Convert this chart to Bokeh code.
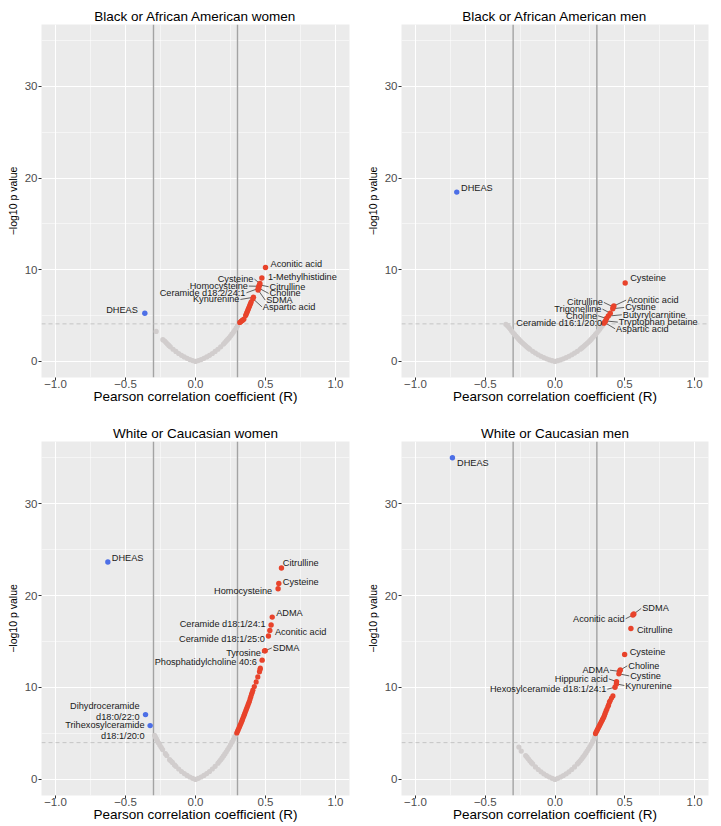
from bokeh.plotting import figure
from bokeh.layouts import column, row
from bokeh.models import Range1d, FixedTicker, Span
from bokeh.core.properties import value
from bokeh.embed import file_html
from bokeh.resources import INLINE

FONT = "Liberation Sans"
RED = "#E8432B"
BLUE = "#4D6FE6"
GRAY = "#D1CDCD"

titles = ["Black or African American women", "Black or African American men",
          "White or Caucasian women", "White or Caucasian men"]
r_threshold = 0.3
p_threshold = [4.1, 4.1, 4.0, 4.0]
x_ticks = [-1.0, -0.5, 0.0, 0.5, 1.0]
x_tick_labels = ["\u22121.0", "\u22120.5", "0.0", "0.5", "1.0"]
y_ticks = [0, 10, 20, 30]

# ---------------- Panel 1: Black or African American women ----------------
gray_r_1 = [0.00, 0.02, 0.04, 0.06, 0.08, 0.10, 0.12, 0.14, 0.16, 0.18, 0.20, 0.21, 0.22, 0.23, 0.24,
            0.25, 0.26, 0.27, 0.28, 0.29, 0.30,
            -0.02, -0.04, -0.06, -0.08, -0.10, -0.12, -0.14, -0.16, -0.18, -0.19, -0.20, -0.21, -0.22,
            -0.233, -0.281]
gray_y_1 = [0.00, 0.10, 0.21, 0.34, 0.49, 0.67, 0.87, 1.09, 1.33, 1.60, 1.90, 2.06, 2.24, 2.40, 2.57,
            2.77, 2.98, 3.18, 3.40, 3.65, 3.90,
            0.10, 0.21, 0.34, 0.49, 0.67, 0.87, 1.09, 1.33, 1.60, 1.75, 1.90, 2.06, 2.22,
            2.37, 3.27]
red_r_1 = [0.316, 0.322, 0.328, 0.334, 0.340, 0.346, 0.358, 0.362, 0.366, 0.370, 0.374, 0.378,
           0.382, 0.386, 0.390, 0.394, 0.398]
red_y_1 = [4.25, 4.32, 4.40, 4.48, 4.55, 4.62, 5.00, 5.15, 5.30, 5.45, 5.60, 5.75,
           5.90, 6.05, 6.20, 6.35, 6.50]
lab_name_1 = ["Aconitic acid", "1-Methylhistidine", "Cysteine", "Homocysteine", "Ceramide d18:2/24:1",
              "Kynurenine", "Citrulline", "Choline", "SDMA", "Aspartic acid", "DHEAS"]
lab_r_1 = [0.500, 0.474, 0.460, 0.452, 0.448, 0.414, 0.458, 0.452, 0.447, 0.410, -0.362]
lab_y_1 = [10.25, 9.10, 8.50, 8.20, 7.95, 7.00, 8.35, 8.00, 7.80, 6.85, 5.25]
lab_dir_1 = ["up", "up", "up", "up", "up", "up", "up", "up", "up", "up", "down"]
# label layout (repelled text positions)
txt_x_1 = [0.536, 0.517, 0.414, 0.374, 0.357, 0.314, 0.529, 0.529, 0.505, 0.481, -0.412]
txt_y_1 = [10.65, 9.24, 8.98, 8.22, 7.49, 6.76, 8.15, 7.42, 6.69, 5.96, 5.60]
txt_al_1 = ["left", "left", "right", "right", "right", "right", "left", "left", "left", "left", "right"]
txt_seg_1 = [False, False, True, True, True, True, True, True, True, True, False]

# ---------------- Panel 2: Black or African American men ----------------
gray_r_2 = [0.00, 0.02, 0.04, 0.06, 0.08, 0.10, 0.12, 0.14, 0.16, 0.18, 0.19, 0.20, 0.21, 0.22, 0.23,
            0.24, 0.25, 0.26, 0.27, 0.28, 0.29, 0.30, 0.31, 0.32, 0.33, 0.34,
            -0.02, -0.04, -0.06, -0.08, -0.10, -0.12, -0.14, -0.16, -0.18, -0.19, -0.20, -0.21, -0.22,
            -0.23, -0.24, -0.25, -0.26, -0.27, -0.28, -0.29, -0.30, -0.31, -0.32, -0.33, -0.34, -0.352]
gray_y_2 = [0.00, 0.08, 0.18, 0.29, 0.42, 0.57, 0.73, 0.91, 1.11, 1.33, 1.45, 1.57, 1.70, 1.84, 1.98,
            2.12, 2.27, 2.43, 2.60, 2.77, 2.95, 3.13, 3.32, 3.52, 3.72, 3.93,
            0.08, 0.18, 0.29, 0.42, 0.57, 0.73, 0.91, 1.11, 1.33, 1.45, 1.57, 1.70, 1.84,
            1.98, 2.12, 2.27, 2.43, 2.60, 2.77, 2.95, 3.13, 3.32, 3.52, 3.72, 3.90, 4.05]
red_r_2 = []
red_y_2 = []
lab_name_2 = ["DHEAS", "Cysteine", "Aconitic acid", "Citrulline", "Cystine", "Trigonelline",
              "Butyrylcarnitine", "Choline", "Tryptophan betaine", "Ceramide d16:1/20:0", "Aspartic acid"]
lab_r_2 = [-0.704, 0.503, 0.422, 0.417, 0.414, 0.396, 0.382, 0.369, 0.362, 0.350, 0.355]
lab_y_2 = [18.47, 8.55, 6.05, 5.95, 5.75, 5.27, 4.95, 4.68, 4.42, 4.18, 4.25]
lab_dir_2 = ["down", "up", "up", "up", "up", "up", "up", "up", "up", "up", "up"]
txt_x_2 = [-0.673, 0.539, 0.517, 0.343, 0.503, 0.333, 0.486, 0.302, 0.457, 0.338, 0.438]
txt_y_2 = [18.90, 9.09, 6.69, 6.44, 5.89, 5.71, 5.09, 4.98, 4.29, 4.20, 3.56]
txt_al_2 = ["left", "left", "left", "right", "left", "right", "left", "right", "left", "right", "left"]
txt_seg_2 = [False, False, True, True, True, True, True, True, True, True, True]

# ---------------- Panel 3: White or Caucasian women ----------------
gray_r_3 = [0.00, 0.02, 0.04, 0.06, 0.08, 0.10, 0.12, 0.14, 0.16, 0.17, 0.18, 0.19, 0.20, 0.21, 0.22,
            0.23, 0.24, 0.25, 0.26, 0.27, 0.28, 0.29,
            -0.02, -0.04, -0.06, -0.08, -0.10, -0.12, -0.14, -0.15,
            -0.165, -0.175, -0.185, -0.205, -0.215, -0.235, -0.245, -0.255, -0.265, -0.272, -0.279,
            -0.286, -0.292]
gray_y_3 = [0.00, 0.12, 0.26, 0.43, 0.63, 0.86, 1.13, 1.42, 1.76, 1.95, 2.14, 2.34, 2.55, 2.77, 3.00,
            3.25, 3.50, 3.77, 4.05, 4.33, 4.62, 4.92,
            0.12, 0.26, 0.43, 0.63, 0.86, 1.13, 1.42, 1.58,
            1.85, 2.00, 2.15, 2.60, 2.80, 3.25, 3.50, 3.75, 4.00, 4.20, 4.40,
            4.60, 4.80]
red_r_3 = [0.295, 0.300, 0.305, 0.310, 0.315, 0.320, 0.325, 0.330, 0.335, 0.340, 0.345, 0.350,
           0.355, 0.360, 0.365, 0.370, 0.375, 0.380, 0.385, 0.390, 0.395, 0.400, 0.405, 0.410,
           0.420, 0.433, 0.445, 0.457, 0.461, 0.463]
red_y_3 = [5.05, 5.23, 5.40, 5.58, 5.76, 5.94, 6.12, 6.31, 6.50, 6.70, 6.90, 7.10,
           7.30, 7.50, 7.70, 7.90, 8.10, 8.30, 8.50, 8.75, 9.00, 9.25, 9.45, 9.70,
           10.10, 10.60, 11.15, 11.70, 11.95, 12.10]
lab_name_3 = ["DHEAS", "Citrulline", "Cysteine", "Homocysteine", "ADMA", "Ceramide d18:1/24:1",
              "Aconitic acid", "Ceramide d18:1/25:0", "SDMA", "Tyrosine", "Phosphatidylcholine 40:6",
              "Dihydroceramide\nd18:0/22:0", "Trihexosylceramide\nd18:1/20:0"]
lab_r_3 = [-0.626, 0.614, 0.595, 0.590, 0.548, 0.540, 0.531, 0.521, 0.498, 0.493, 0.476, -0.357, -0.324]
lab_y_3 = [23.65, 23.00, 21.30, 20.74, 17.65, 16.80, 16.20, 15.60, 14.00, 13.98, 12.97, 7.05, 5.85]
lab_dir_3 = ["down", "up", "up", "up", "up", "up", "up", "up", "up", "up", "up", "down", "down"]
txt_x_3 = [-0.598, 0.624, 0.624, 0.548, 0.576, 0.500, 0.567, 0.495, 0.552, 0.467, 0.438, -0.400, -0.364]
txt_y_3 = [24.10, 23.50, 21.50, 20.45, 18.10, 16.85, 16.00, 15.30, 14.30, 13.77, 12.82, 7.41, 5.34]
txt_al_3 = ["left", "left", "left", "right", "left", "right", "left", "right", "left", "right", "right",
            "right", "right"]
txt_seg_3 = [False, False, False, False, False, False, False, False, True, True, False, False, False]

# ---------------- Panel 4: White or Caucasian men ----------------
gray_r_4 = [0.00, 0.02, 0.04, 0.06, 0.08, 0.10, 0.12, 0.14, 0.16, 0.17, 0.18, 0.19, 0.20, 0.21, 0.22,
            0.23, 0.24, 0.25, 0.26, 0.27, 0.28, 0.285,
            -0.02, -0.04, -0.06, -0.08, -0.10, -0.12, -0.14, -0.16, -0.17, -0.18, -0.19, -0.20, -0.21,
            -0.242, -0.259]
gray_y_4 = [0.00, 0.12, 0.26, 0.42, 0.61, 0.83, 1.08, 1.36, 1.68, 1.85, 2.03, 2.22, 2.42, 2.63, 2.85,
            3.08, 3.33, 3.58, 3.85, 4.13, 4.42, 4.60,
            0.12, 0.26, 0.42, 0.61, 0.83, 1.08, 1.36, 1.68, 1.85, 2.03, 2.22, 2.42, 2.60,
            3.08, 3.52]
red_r_4 = [0.290, 0.295, 0.300, 0.305, 0.310, 0.315, 0.320, 0.325, 0.330, 0.335, 0.340, 0.345,
           0.350, 0.355, 0.360, 0.366, 0.372, 0.379, 0.384, 0.390, 0.396, 0.405, 0.415]
red_y_4 = [4.98, 5.15, 5.30, 5.45, 5.60, 5.75, 5.90, 6.05, 6.20, 6.35, 6.50, 6.65,
           6.80, 7.00, 7.20, 7.45, 7.65, 7.92, 8.10, 8.40, 8.57, 8.85, 9.08]
lab_name_4 = ["DHEAS", "SDMA", "Aconitic acid", "Citrulline", "Cysteine", "Choline", "ADMA", "Cystine",
              "Hippuric acid", "Kynurenine", "Hexosylceramide d18:1/24:1"]
lab_r_4 = [-0.735, 0.565, 0.558, 0.544, 0.499, 0.468, 0.462, 0.458, 0.441, 0.440, 0.430]
lab_y_4 = [34.98, 18.00, 17.88, 16.42, 13.59, 11.90, 11.75, 11.48, 10.64, 10.39, 10.03]
lab_dir_4 = ["down", "up", "up", "up", "up", "up", "up", "up", "up", "up", "up"]
txt_x_4 = [-0.702, 0.625, 0.499, 0.587, 0.535, 0.525, 0.387, 0.539, 0.379, 0.504, 0.368]
txt_y_4 = [34.40, 18.60, 17.47, 16.24, 13.90, 12.35, 11.88, 11.26, 10.93, 10.21, 9.81]
txt_al_4 = ["left", "left", "right", "left", "left", "left", "right", "left", "right", "left", "right"]
txt_seg_4 = [False, True, True, False, False, True, True, True, True, True, True]


def make_panel(idx, gr, gy, rr, ry, names, pr, py, pdir, tx, ty, tal, tseg,
               fw, fh, bl, br, bt, bb):
    p = figure(width=bl + fw + br, height=bt + fh + bb,
               x_range=Range1d(-1.1, 1.1), y_range=Range1d(-1.75, 36.75),
               output_backend="svg", toolbar_location=None,
               min_border_left=bl, min_border_right=br, min_border_top=bt, min_border_bottom=bb,
               background_fill_color="#EBEBEB", border_fill_color="white",
               outline_line_color=None)
    p.title.text = titles[idx]
    p.title.align = "center"
    p.title.text_font = FONT
    p.title.text_font_size = "13.5px"
    p.title.text_font_style = "normal"
    p.title.text_color = "black"
    p.title.standoff = 2

    p.xaxis.ticker = FixedTicker(ticks=x_ticks, minor_ticks=[-0.75, -0.25, 0.25, 0.75])
    p.yaxis.ticker = FixedTicker(ticks=y_ticks, minor_ticks=[5, 15, 25, 35])
    p.xaxis.major_label_overrides = {t: l for t, l in zip(x_ticks, x_tick_labels)}
    p.xaxis.axis_label = "Pearson correlation coefficient (R)"
    p.yaxis.axis_label = "\u2212log10 p value"
    for ax in p.axis:
        ax.axis_line_color = None
        ax.major_tick_line_color = "#333333"
        ax.major_tick_out = 3
        ax.major_tick_in = 0
        ax.minor_tick_line_color = None
        ax.major_label_text_font = FONT
        ax.major_label_text_font_size = "11.5px"
        ax.major_label_text_color = "#4D4D4D"
        ax.axis_label_text_font = FONT
        ax.axis_label_text_font_style = "normal"
        ax.axis_label_text_color = "black"
    p.xaxis.axis_label_text_font_size = "13.5px"
    p.xaxis.major_label_standoff = -2
    p.xaxis.axis_label_standoff = -2
    p.yaxis.axis_label_text_font_size = "10.5px"
    p.yaxis.major_label_standoff = 0
    p.yaxis.axis_label_standoff = 3

    for g in (p.xgrid, p.ygrid):
        g.grid_line_color = "white"
        g.grid_line_width = 1.1
        g.minor_grid_line_color = "white"
        g.minor_grid_line_width = 0.5

    for loc in (-r_threshold, r_threshold):
        p.add_layout(Span(location=loc, dimension="height", line_color="#A3A3A3",
                          line_width=1.4, level="underlay"))
    p.add_layout(Span(location=p_threshold[idx], dimension="width", line_color="#C4C4C4",
                      line_width=1, line_dash="4 3", level="underlay"))

    # leader segments
    sx0, sy0, sx1, sy1 = [], [], [], []
    for i in range(len(names)):
        if tseg[i]:
            gap = 0.007 if tal[i] == "left" else -0.007
            sx0.append(tx[i] - gap)
            sy0.append(ty[i])
            sx1.append(pr[i])
            sy1.append(py[i])
    if sx0:
        p.segment(sx0, sy0, sx1, sy1, line_color="#3A3A3A", line_width=0.8)

    p.scatter(gr, gy, size=5.2, color=GRAY, line_color=None)
    if rr:
        p.scatter(rr, ry, size=5.2, color=RED, line_color=None)
    cols = [RED if d == "up" else BLUE for d in pdir]
    p.scatter(pr, py, size=5.4, color=cols, line_color=None)

    for al in ("left", "right"):
        xs = [tx[i] for i in range(len(names)) if tal[i] == al]
        ys = [ty[i] for i in range(len(names)) if tal[i] == al]
        ts = [names[i] for i in range(len(names)) if tal[i] == al]
        if xs:
            p.text(xs, ys, text=ts, text_align=al, text_baseline="middle",
                   text_font=value(FONT), text_font_size="9.2px", text_color="#1A1A1A",
                   text_line_height=1.1)
    return p


p1 = make_panel(0, gray_r_1, gray_y_1, red_r_1, red_y_1, lab_name_1, lab_r_1, lab_y_1, lab_dir_1,
                txt_x_1, txt_y_1, txt_al_1, txt_seg_1, 308, 353, 41, 11, 24, 34)
p2 = make_panel(1, gray_r_2, gray_y_2, red_r_2, red_y_2, lab_name_2, lab_r_2, lab_y_2, lab_dir_2,
                txt_x_2, txt_y_2, txt_al_2, txt_seg_2, 307, 353, 41, 12, 24, 34)
p3 = make_panel(2, gray_r_3, gray_y_3, red_r_3, red_y_3, lab_name_3, lab_r_3, lab_y_3, lab_dir_3,
                txt_x_3, txt_y_3, txt_al_3, txt_seg_3, 308, 354, 41, 11, 30, 31)
p4 = make_panel(3, gray_r_4, gray_y_4, red_r_4, red_y_4, lab_name_4, lab_r_4, lab_y_4, lab_dir_4,
                txt_x_4, txt_y_4, txt_al_4, txt_seg_4, 307, 354, 41, 12, 30, 31)

layout = column(row(p1, p2), row(p3, p4))
open("out.html", "w").write(file_html(layout, INLINE))
